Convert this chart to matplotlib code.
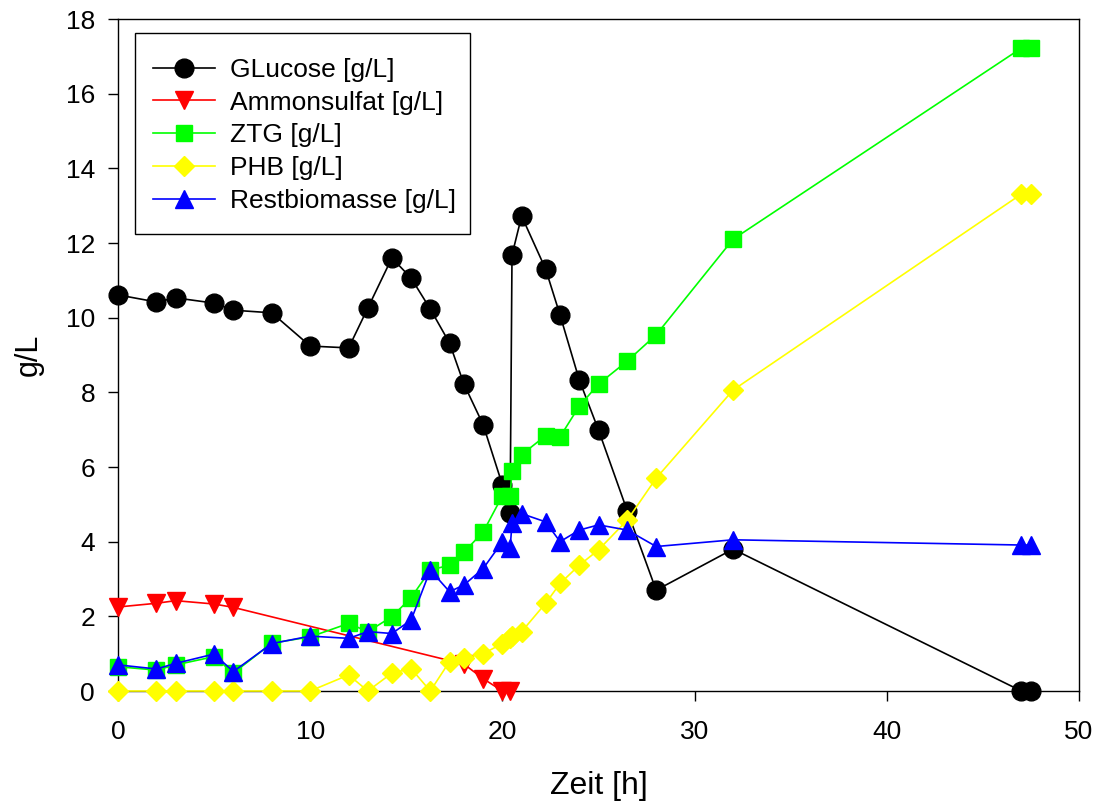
import matplotlib
matplotlib.use("Agg")
import matplotlib.pyplot as plt
from matplotlib.patches import Rectangle

plt.rcParams['font.family'] = ['Liberation Sans', 'DejaVu Sans']

# --- data ---
t = [0, 2, 3, 5, 6, 8, 10, 12, 13, 14.25, 15.25, 16.25, 17.25, 18, 19, 20,
     20.4, 20.5, 21, 22.25, 23, 24, 25, 26.5, 28, 32, 47, 47.5]
glucose = [10.61, 10.42, 10.53, 10.39, 10.2, 10.13, 9.24, 9.19, 10.26, 11.6,
           11.06, 10.23, 9.32, 8.22, 7.13, 5.52, 4.78, 11.68, 12.72, 11.3,
           10.07, 8.33, 6.99, 4.82, 2.7, 3.8, 0.0, 0.0]
t_amm = [0, 2, 3, 5, 6, 18, 19, 20, 20.4]
ammonsulfat = [2.25, 2.35, 2.42, 2.33, 2.24, 0.72, 0.33, 0.0, 0.0]
ztg = [0.65, 0.56, 0.7, 0.92, 0.48, 1.28, 1.45, 1.81, 1.59, 1.99, 2.5, 3.24,
       3.37, 3.72, 4.26, 5.23, 5.23, 5.89, 6.33, 6.84, 6.81, 7.63, 8.22, 8.84,
       9.54, 12.1, 17.22, 17.22]
phb = [0, 0, 0, 0, 0, 0, 0, 0.43, 0, 0.48, 0.6, 0, 0.79, 0.88, 1.0, 1.27,
       1.42, 1.47, 1.59, 2.35, 2.88, 3.37, 3.78, 4.58, 5.7, 8.06, 13.31, 13.31]
restbiomasse = [0.7, 0.59, 0.74, 0.99, 0.52, 1.27, 1.47, 1.41, 1.59, 1.54, 1.9,
                3.24, 2.66, 2.84, 3.28, 4.0, 3.82, 4.49, 4.75, 4.53, 4.0, 4.31,
                4.45, 4.31, 3.87, 4.05, 3.91, 3.91]

labels = ['GLucose [g/L]', 'Ammonsulfat [g/L]', 'ZTG [g/L]', 'PHB [g/L]',
          'Restbiomasse [g/L]']
xticks = [0, 10, 20, 30, 40, 50]
yticks = [0, 2, 4, 6, 8, 10, 12, 14, 16, 18]

fig = plt.figure(figsize=(10.98, 8.05), dpi=100)
ax = fig.add_axes([118 / 1098, 1 - 691 / 805, (1079 - 118) / 1098, (691 - 19) / 805])

lw = 1.2
ax.plot(t, glucose, color='black', marker='o', ms=13.5, lw=lw, label=labels[0], clip_on=False, zorder=3)
ax.plot(t_amm, ammonsulfat, color='#FF0000', marker='v', ms=13, lw=lw, label=labels[1], clip_on=False, zorder=4)
ax.plot(t, ztg, color='#00FF00', marker='s', ms=11.5, lw=lw, label=labels[2], clip_on=False, zorder=5)
ax.plot(t, phb, color='#FFFF00', marker='D', ms=10, lw=lw, label=labels[3], clip_on=False, zorder=6)
ax.plot(t, restbiomasse, color='#0000FF', marker='^', ms=13, lw=lw, label=labels[4], clip_on=False, zorder=7)

ax.set_xlim(0, 50)
ax.set_ylim(0, 18)
ax.set_xticks(xticks)
ax.set_yticks(yticks)
ax.tick_params(axis='both', direction='out', length=7, width=1, labelsize=19)
ax.tick_params(axis='x', pad=14)
ax.tick_params(axis='y', pad=9.5)
for s in ax.spines.values():
    s.set_linewidth(1.0)

ax.set_xlabel('Zeit [h]', fontsize=23, labelpad=19)
ax.set_ylabel('g/L', fontsize=22, labelpad=16)

# legend frame drawn as a rectangle in axes coordinates
frame = Rectangle((17 / 961, (691 - 234) / 672), (470 - 135) / 961, (234 - 33) / 672,
                  transform=ax.transAxes, facecolor='white', edgecolor='black',
                  linewidth=1.0, zorder=10, clip_on=False)
ax.add_patch(frame)

leg = ax.legend(loc='upper left', bbox_to_anchor=(17 / 961, (691 - 40) / 672),
                borderaxespad=0, fontsize=19, frameon=False,
                handlelength=2.35, handletextpad=0.57,
                labelspacing=0.33, borderpad=0.68)
leg.set_zorder(11)

fig.savefig('out.png', dpi=100)
